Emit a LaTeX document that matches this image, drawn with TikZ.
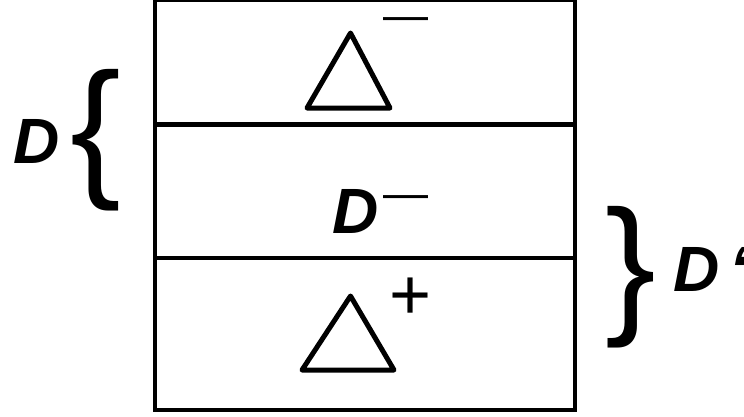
\documentclass[tikz,border=0pt]{standalone}
\usepackage{fontspec}
\newfontfamily\lsans{Liberation Sans}
\begin{document}
\begin{tikzpicture}[x=1pt,y=-1pt,
  frame/.style={line width=4.6pt},
  tri/.style={line width=5pt, line join=round},
  biglab/.style={font=\lsans\bfseries\itshape\fontsize{64}{64}\selectfont, inner sep=0pt},
  brace/.style={font=\lsans\fontsize{152}{152}\selectfont, inner sep=0pt},
  dashlab/.style={font=\lsans\fontsize{45}{45}\selectfont, inner sep=0pt},
  pluslab/.style={font=\lsans\fontsize{72}{72}\selectfont, inner sep=0pt}]
\useasboundingbox (0,0) rectangle (744,416);
% frame
\coordinate (tl) at (155,0);
\coordinate (br) at (575,410);
\draw[frame] (tl) rectangle (br);
\coordinate (m1l) at (155,124.5);
\coordinate (m1r) at (575,124.5);
\coordinate (m2l) at (155,258);
\coordinate (m2r) at (575,258);
\draw[frame] (m1l) -- (m1r);
\draw[frame] (m2l) -- (m2r);
% triangles
\draw[tri] (307,108) -- (350.5,33) -- (390,108) -- cycle;
\draw[tri] (302,370) -- (350.5,296) -- (394,370) -- cycle;
% superscripts
\node[dashlab, anchor=center] (m1) at (405.5,24) {—};
\node[pluslab, anchor=center] (p1) at (410.5,298.5) {+};
% middle D
\node[biglab, anchor=base] (dm) at (356,233) {D};
\node[dashlab, anchor=center] (m2) at (405.5,202) {—};
% left D and brace
\node[biglab, anchor=base] (dl) at (37,163) {D};
\node[brace, anchor=center] (bl) at (95.5,140.5) {\{};
% right brace and D'
\node[brace, anchor=center] (brr) at (631,277.5) {\}};
\node[biglab, anchor=base west] (dr) at (673,291) {D\kern10pt‘};
\end{tikzpicture}
\end{document}
